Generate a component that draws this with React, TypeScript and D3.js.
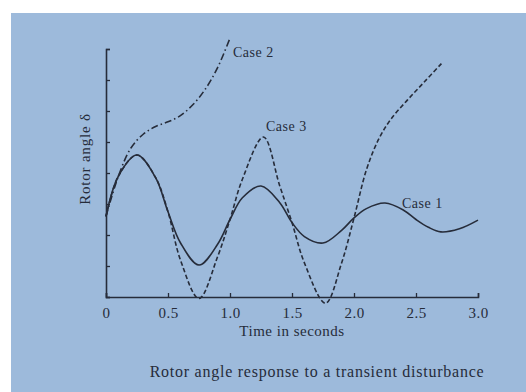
import React, { useEffect, useRef } from "react";
import * as d3 from "d3";

// time (s) and rotor angle (arbitrary units, 0..8 on the axis)
const case1T = [0, 0.1, 0.25, 0.4, 0.5, 0.6, 0.75, 0.9, 1.0, 1.1, 1.25, 1.4, 1.5, 1.6, 1.75, 1.9, 2.0, 2.1, 2.25, 2.4, 2.5, 2.6, 2.7, 2.85, 3.0];
const case1V = [2.6, 3.9, 4.58, 3.85, 2.75, 1.75, 1.03, 1.7, 2.5, 3.2, 3.58, 3.05, 2.4, 1.95, 1.74, 2.15, 2.55, 2.85, 3.03, 2.8, 2.5, 2.25, 2.1, 2.2, 2.48];

const case2T = [0, 0.1, 0.2, 0.3, 0.4, 0.5, 0.6, 0.7, 0.8, 0.9, 1.0];
const case2V = [2.6, 3.9, 4.8, 5.25, 5.5, 5.65, 5.85, 6.2, 6.7, 7.4, 8.35];

const case3T = [0, 0.1, 0.25, 0.4, 0.5, 0.6, 0.75, 0.9, 1.0, 1.1, 1.27, 1.4, 1.5, 1.6, 1.77, 1.9, 2.0, 2.1, 2.2, 2.3, 2.43, 2.57, 2.71];
const case3V = [2.6, 3.9, 4.58, 3.85, 2.75, 1.2, -0.05, 1.3, 2.5, 3.8, 5.16, 3.6, 2.4, 1.1, -0.2, 1.1, 2.55, 4.1, 5.1, 5.75, 6.35, 6.95, 7.55];

const xTicks = [0, 0.5, 1.0, 1.5, 2.0, 2.5, 3.0];
const yTicks = [0, 1, 2, 3, 4, 5, 6, 7, 8];

const ink = "#262c3a";
const font = "'Liberation Serif', 'DejaVu Serif', serif";

export default function App() {
  const svgRef = useRef<SVGSVGElement | null>(null);

  useEffect(() => {
    if (!svgRef.current) return;
    const svg = d3.select(svgRef.current);
    svg.selectAll("*").remove();

    const W = 526;
    const H = 392;

    // paper
    svg.append("rect").attr("width", W).attr("height", H).attr("fill", "#ffffff");
    svg.append("rect").attr("x", 11).attr("y", 13).attr("width", W - 11).attr("height", H - 13).attr("fill", "#9dbadb");

    const x = d3.scaleLinear().domain([0, 3]).range([106, 478]);
    const y = d3.scaleLinear().domain([0, 8]).range([297, 49]);

    // axes
    svg.append("g")
      .attr("transform", `translate(0,${y(0)})`)
      .call(d3.axisBottom(x).tickValues(xTicks).tickSize(-4).tickPadding(10))
      .call(g => {
        g.select(".domain").attr("stroke", ink).attr("stroke-width", 1.6);
        g.selectAll(".tick line").attr("stroke", ink).attr("stroke-width", 1.3);
        g.selectAll(".tick text")
          .attr("fill", ink)
          .style("font-family", font)
          .style("font-size", "15px")
          .style("letter-spacing", "0.5px")
          .text((d: any) => (d === 0 ? "0" : d3.format(".1f")(d)));
      });

    svg.append("g")
      .attr("transform", `translate(${x(0)},0)`)
      .call(d3.axisLeft(y).tickValues(yTicks).tickSize(-4).tickFormat(() => ""))
      .call(g => {
        g.select(".domain").attr("stroke", ink).attr("stroke-width", 1.6);
        g.selectAll(".tick line").attr("stroke", ink).attr("stroke-width", 1.3);
      });

    const line = d3.line<[number, number]>()
      .x(d => x(d[0]))
      .y(d => y(d[1]))
      .curve(d3.curveCatmullRom.alpha(0.5));

    const series = [
      { t: case2T, v: case2V, dash: "7,3,1.5,3" },
      { t: case3T, v: case3V, dash: "4.5,2.5" },
      { t: case1T, v: case1V, dash: null },
    ];

    series.forEach(s => {
      const pts = s.t.map((t, i) => [t, s.v[i]] as [number, number]);
      svg.append("path")
        .datum(pts)
        .attr("fill", "none")
        .attr("stroke", ink)
        .attr("stroke-width", 1.6)
        .attr("stroke-dasharray", s.dash)
        .attr("d", line);
    });

    const label = (txt: string, lx: number, ly: number, size = 14, ls = 0.5) =>
      svg.append("text")
        .attr("x", lx)
        .attr("y", ly)
        .attr("fill", ink)
        .style("font-family", font)
        .style("font-size", `${size}px`)
        .style("letter-spacing", `${ls}px`)
        .text(txt);

    label("Case 2", 233, 57);
    label("Case 3", 266, 131);
    label("Case 1", 402, 208);

    label("Time in seconds", 292, 336, 15).attr("text-anchor", "middle");
    label("Rotor angle response to a transient disturbance", 317, 377, 16, 0.75).attr("text-anchor", "middle");

    svg.append("text")
      .attr("transform", `translate(90,159) rotate(-90)`)
      .attr("text-anchor", "middle")
      .attr("fill", ink)
      .style("font-family", font)
      .style("font-size", "15px")
      .style("letter-spacing", "0.8px")
      .text("Rotor angle δ");
  }, []);

  return (
    <svg
      ref={svgRef}
      width={526}
      height={392}
      style={{ position: "absolute", left: 0, top: 0, display: "block" }}
    />
  );
}
